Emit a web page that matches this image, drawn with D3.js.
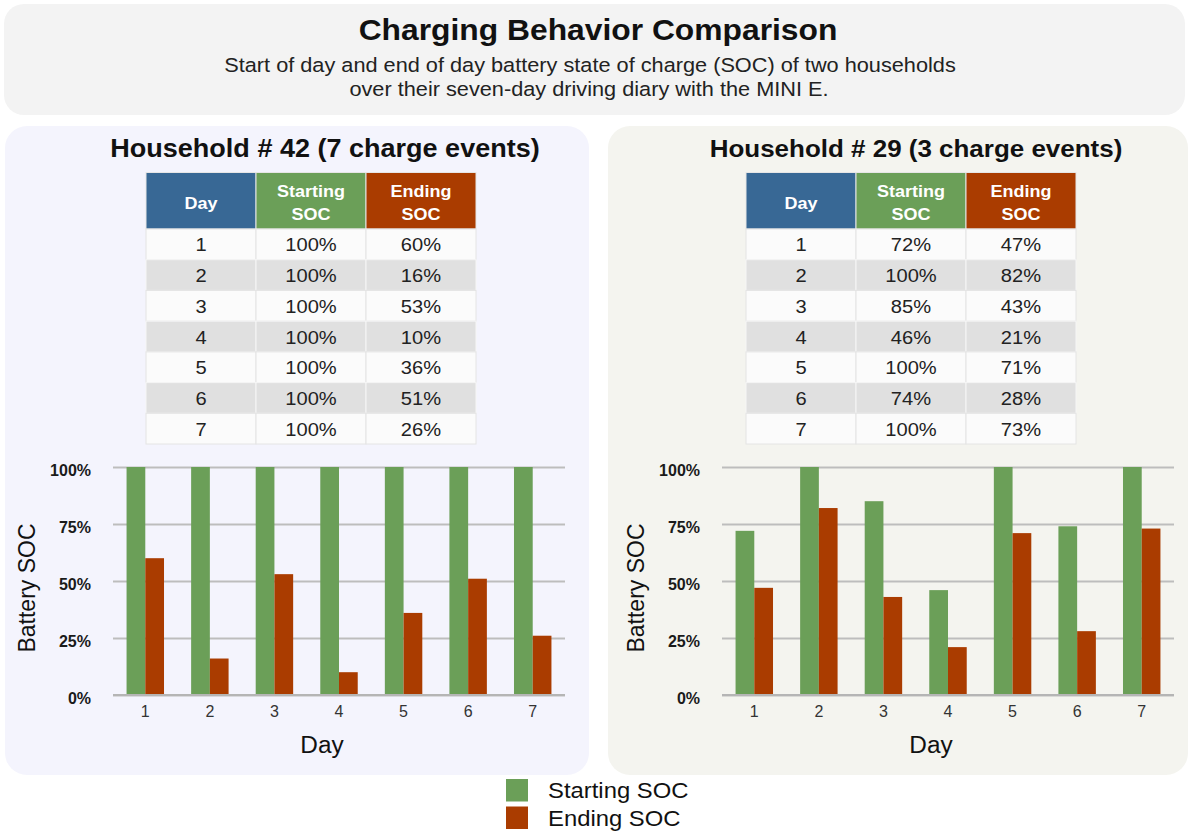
<!DOCTYPE html>
<html>
<head>
<meta charset="utf-8">
<script src="https://cdn.jsdelivr.net/npm/d3@7"></script>
<style>
  body { margin: 0; background: #fff; }
  svg { display: block; font-family: "Liberation Sans", Arial, Helvetica, sans-serif; }
</style>
</head>
<body>
<script>
var WIDTH = 1188;
var HEIGHT = 833;
var SX = 1.06; // the reference text is a little wider than Liberation Sans

// data
var days = [1, 2, 3, 4, 5, 6, 7];
var yTicks = [0, 25, 50, 75, 100];
var hh42Start = [100, 100, 100, 100, 100, 100, 100];
var hh42End = [60, 16, 53, 10, 36, 51, 26];
var hh29Start = [72, 100, 85, 46, 100, 74, 100];
var hh29End = [47, 82, 43, 21, 71, 28, 73];
var seriesNames = ['Starting SOC', 'Ending SOC'];
var tableHeaders = [['Day'], ['Starting', 'SOC'], ['Ending', 'SOC']];

var GREEN = '#6b9f58';
var RED = '#aa3c00';
var BLUE = '#386895';

var svg = d3.select('body').append('svg')
    .attr('width', WIDTH)
    .attr('height', HEIGHT);

// text placed at (x,y), slightly stretched horizontally
var label = function (parent, x, y, txt, size, opts) {
    opts = opts || {};
    return parent.append('text')
        .attr('transform', 'translate(' + x + ',' + y + ') scale(' + SX + ',1)')
        .attr('text-anchor', opts.anchor || 'middle')
        .attr('font-size', size)
        .attr('font-weight', opts.bold ? 'bold' : null)
        .attr('fill', opts.fill || '#111')
        .text(txt);
};

// header box
svg.append('rect')
    .attr('x', 4).attr('y', 4)
    .attr('width', 1181).attr('height', 111)
    .attr('rx', 20)
    .attr('fill', '#f3f3f3');

label(svg, 598, 40, 'Charging Behavior Comparison', 30, { bold: true });
label(svg, 590, 72, 'Start of day and end of day battery state of charge (SOC) of two households', 20.5, { fill: '#222' });
label(svg, 589, 96, 'over their seven-day driving diary with the MINI E.', 20.5, { fill: '#222' });

var panels = [
    { x: 5, w: 584, bg: '#f4f4fd', title: 'Household # 42 (7 charge events)', titleX: 325, titleSize: 25.5,
      tableX: 146, chartX: 113, start: hh42Start, end: hh42End },
    { x: 608, w: 580, bg: '#f4f4ef', title: 'Household # 29 (3 charge events)', titleX: 916, titleSize: 24.5,
      tableX: 746, chartX: 722, start: hh29Start, end: hh29End }
];

var fmt = function (v) { return v + '%'; };

panels.forEach(function (p) {
    var g = svg.append('g');

    g.append('rect')
        .attr('x', p.x).attr('y', 126)
        .attr('width', p.w).attr('height', 649)
        .attr('rx', 22)
        .attr('fill', p.bg);

    label(g, p.titleX, 157, p.title, p.titleSize, { bold: true });

    // ---- table ----
    var colX = d3.scaleBand().domain([0, 1, 2]).range([p.tableX, p.tableX + 330]);
    var rowY = d3.scaleBand().domain(days).range([229, 444]);
    var headColors = [BLUE, GREEN, RED];

    tableHeaders.forEach(function (lines, i) {
        var cx = colX(i) + colX.bandwidth() / 2;
        g.append('rect')
            .attr('x', colX(i)).attr('y', 172.5)
            .attr('width', colX.bandwidth()).attr('height', 56.5)
            .attr('fill', headColors[i])
            .attr('stroke', '#e6e6e6').attr('stroke-width', 1);
        if (lines.length === 1) {
            label(g, cx, 208.5, lines[0], 17, { bold: true, fill: '#fff' });
        } else {
            label(g, cx, 197, lines[0], 17, { bold: true, fill: '#fff' });
            label(g, cx, 219.5, lines[1], 17, { bold: true, fill: '#fff' });
        }
    });

    days.forEach(function (d, r) {
        var shade = r % 2 === 1;
        var cells = [String(d), fmt(p.start[r]), fmt(p.end[r])];
        cells.forEach(function (txt, i) {
            g.append('rect')
                .attr('x', colX(i)).attr('y', rowY(d))
                .attr('width', colX.bandwidth()).attr('height', rowY.bandwidth())
                .attr('fill', shade ? '#e0e0e0' : '#fbfbfb')
                .attr('stroke', shade ? '#f6f6f6' : '#e4e4e4').attr('stroke-width', 1);
            label(g, colX(i) + colX.bandwidth() / 2, rowY(d) + rowY.bandwidth() / 2 + 7, txt, 19, { fill: '#222' });
        });
    });

    // ---- bar chart ----
    var x = d3.scaleBand()
        .domain(days)
        .range([p.chartX, p.chartX + 452])
        .paddingInner(0.42)
        .paddingOuter(0.21);
    var xs = d3.scaleBand().domain([0, 1]).range([0, x.bandwidth()]);
    var y = d3.scaleLinear().domain([0, 100]).range([695, 467]);

    var yAxis = g.append('g')
        .attr('transform', 'translate(' + p.chartX + ',0)')
        .call(d3.axisLeft(y).tickValues(yTicks).tickFormat(fmt).tickSize(-452).tickPadding(22));
    yAxis.select('.domain').remove();
    yAxis.selectAll('.tick line')
        .attr('stroke', '#bdbdbd').attr('stroke-width', 2);
    yAxis.selectAll('.tick text')
        .attr('font-family', '"Liberation Sans", Arial, sans-serif')
        .attr('font-size', 16).attr('font-weight', 'bold')
        .attr('fill', '#1a1a1a')
        .attr('dy', '0.5em');

    var rows = days.map(function (d, i) { return { day: d, vals: [p.start[i], p.end[i]] }; });
    var groups = g.selectAll('g.day')
        .data(rows)
        .enter().append('g')
        .attr('class', 'day')
        .attr('transform', function (d) { return 'translate(' + x(d.day) + ',0)'; });

    groups.selectAll('rect')
        .data(function (d) { return d.vals; })
        .enter().append('rect')
        .attr('x', function (v, i) { return xs(i); })
        .attr('y', function (v) { return y(v); })
        .attr('width', xs.bandwidth())
        .attr('height', function (v) { return y(0) - y(v); })
        .attr('fill', function (v, i) { return i === 0 ? GREEN : RED; });

    // redraw the zero line over the bars
    g.append('line')
        .attr('x1', p.chartX).attr('x2', p.chartX + 452)
        .attr('y1', y(0)).attr('y2', y(0))
        .attr('stroke', '#b5b5b5').attr('stroke-width', 2);

    var xAxis = g.append('g')
        .attr('transform', 'translate(0,' + y(0) + ')')
        .call(d3.axisBottom(x).tickSize(0).tickPadding(11));
    xAxis.select('.domain').remove();
    xAxis.selectAll('.tick text')
        .attr('font-family', '"Liberation Sans", Arial, sans-serif')
        .attr('font-size', 16).attr('fill', '#333');

    label(g, p.chartX + 209, 753, 'Day', 23);

    g.append('text')
        .attr('transform', 'translate(' + (p.chartX - 78) + ',588) rotate(-90)')
        .attr('text-anchor', 'middle')
        .attr('font-size', 23).attr('fill', '#111')
        .text('Battery SOC');
});

// legend
var legend = svg.append('g');
seriesNames.forEach(function (name, i) {
    legend.append('rect')
        .attr('x', 506).attr('y', 779 + i * 27.5)
        .attr('width', 22).attr('height', 22.5)
        .attr('fill', i === 0 ? GREEN : RED);
    label(legend, 548, 798 + i * 27.5, name, 22.5, { anchor: 'start' });
});
</script>
</body>
</html>
